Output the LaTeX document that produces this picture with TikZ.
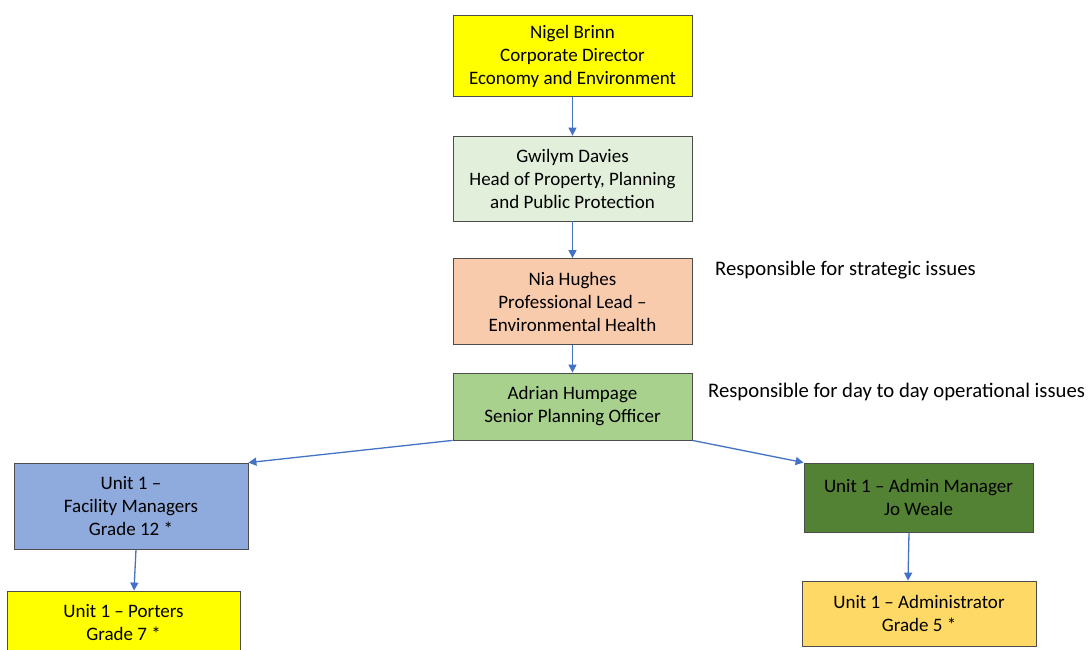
\documentclass[tikz,border=0pt]{standalone}
\usepackage{fontspec}
\setmainfont{Carlito}
\usetikzlibrary{arrows.meta}
\definecolor{topyellow}{HTML}{FFFF00}
\definecolor{palegreen}{HTML}{E2EFDA}
\definecolor{peach}{HTML}{F8CBAD}
\definecolor{midgreen}{HTML}{A9D18E}
\definecolor{unitblue}{HTML}{8FAADC}
\definecolor{darkgreen}{HTML}{548235}
\definecolor{gold}{HTML}{FFD966}
\definecolor{linkblue}{HTML}{4472C4}

\begin{document}
\begin{tikzpicture}[x=1pt, y=-1pt,
    post/.style={draw=black!70, line width=0.8pt, align=center, inner sep=0pt,
        font=\fontsize{19}{23}\selectfont},
    note/.style={anchor=west, inner sep=0pt, font=\fontsize{20.7}{25}\selectfont},
    link/.style={-{Triangle[length=8pt, width=8pt]}, draw=linkblue, line width=1.3pt}]
    \useasboundingbox[fill=white] (0,0) rectangle (1088,650);
    % nodes
    \node (nb) [post, fill=topyellow, minimum width=239pt, minimum height=81pt] at (572.5,56) {Nigel Brinn\\Corporate Director\\Economy and Environment};
    \node (gd) [post, fill=palegreen, minimum width=239pt, minimum height=85pt] at (572.5,178.5) {Gwilym Davies\\Head of Property, Planning\\and Public Protection};
    \node (nh) [post, fill=peach, minimum width=239pt, minimum height=86pt] at (572.5,301.5) {Nia Hughes\\Professional Lead –\\Environmental Health};
    \node (ah) [post, fill=midgreen, minimum width=239pt, minimum height=67pt] at (572.5,406.5) {Adrian Humpage\\Senior Planning Officer};
    \node (fm) [post, fill=unitblue, minimum width=234pt, minimum height=86pt] at (131,506) {Unit 1 –\\Facility Managers\\Grade 12 *};
    \node (am) [post, fill=darkgreen, minimum width=229pt, minimum height=69pt] at (918.5,497.5) {Unit 1 – Admin Manager\\Jo Weale};
    \node (po) [post, fill=topyellow, minimum width=233pt, minimum height=64pt] at (123.5,623) {Unit 1 – Porters\\Grade 7 *};
    \node (ad) [post, fill=gold, minimum width=234pt, minimum height=65pt] at (919,613.5) {Unit 1 – Administrator\\Grade 5 *};
    \node (rs) [note] at (715,270) {Responsible for strategic issues};
    \node (ro) [note] at (708,392) {Responsible for day to day operational issues};
    % arrows
    \draw[link] (nb) -- (gd);
    \draw[link] (gd) -- (nh);
    \draw[link] (nh) -- (ah);
    \draw[link] (ah.south west) -- (fm.north east);
    \draw[link] (ah.south east) -- (am.north west);
    \draw[link] (136,0 |- fm.south) -- (134,0 |- po.north);
    \draw[link] (909,0 |- am.south) -- (908,0 |- ad.north);
\end{tikzpicture}
\end{document}
